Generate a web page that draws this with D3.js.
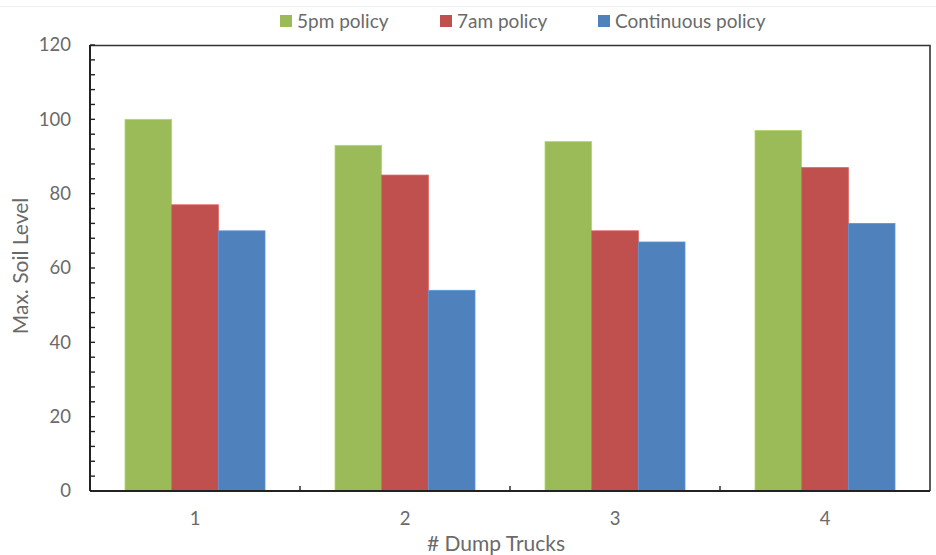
<!DOCTYPE html>
<html>
<head>
<meta charset="utf-8">
<script src="https://cdn.jsdelivr.net/npm/d3@7"></script>
<style>
  html, body { margin: 0; padding: 0; background: #fff; }
  svg { display: block; font-family: Lato, "Open Sans", sans-serif; }
</style>
</head>
<body>
<svg id="chart" width="936" height="555"></svg>
<script>
// Number of dump trucks on the x axis
const categories = ["1", "2", "3", "4"];
// Policy series
const seriesNames = ["5pm policy", "7am policy", "Continuous policy"];
const seriesColors = ["#9BBB59", "#C0504D", "#4F81BD"];
const policy5pm = [100, 93, 94, 97];
const policy7am = [77, 85, 70, 87];
const policyContinuous = [70, 54, 67, 72];
const yTicks = [0, 20, 40, 60, 80, 100, 120];

const seriesValues = [policy5pm, policy7am, policyContinuous];
const rows = categories.map((c, i) => ({
  cat: c,
  vals: seriesValues.map((s, k) => ({ key: seriesNames[k], value: s[i], color: seriesColors[k] }))
}));

const svg = d3.select("#chart");
const W = 936, H = 555;
const m = { left: 90, right: 6, top: 45, bottom: 64 };
const plotW = W - m.left - m.right;
const plotH = H - m.top - m.bottom;
const textColor = "#6a6a6a";

// outer chart frame line
svg.append("line").attr("x1", 0).attr("x2", W).attr("y1", 6.5).attr("y2", 6.5)
  .attr("stroke", "#eeeeee").attr("stroke-width", 1);

const g = svg.append("g").attr("transform", `translate(${m.left},${m.top})`);

const x0 = d3.scaleBand().domain(categories).range([0, plotW]).paddingInner(0).paddingOuter(0);
const groupW = x0.bandwidth() * 2 / 3;
const x1 = d3.scaleBand().domain(seriesNames).range([0, groupW]).padding(0);
const y = d3.scaleLinear().domain([0, 120]).range([plotH, 0]);

// bars
const groups = g.selectAll(".grp").data(rows).join("g")
  .attr("transform", d => `translate(${x0(d.cat) + (x0.bandwidth() - groupW) / 2},0)`);
groups.selectAll("rect").data(d => d.vals).join("rect")
  .attr("x", d => x1(d.key))
  .attr("width", x1.bandwidth())
  .attr("y", d => y(d.value))
  .attr("height", d => y(0) - y(d.value))
  .attr("fill", d => d.color)
  .attr("stroke", d => d3.color(d.color).brighter(0.4))
  .attr("stroke-width", 0.8);

// plot box (top and right edges)
g.append("path")
  .attr("d", `M0,0.5H${plotW}V${plotH}`)
  .attr("fill", "none").attr("stroke", "#333").attr("stroke-width", 1.6);

// y axis: major labels, inward major + minor ticks
const yAxis = g.append("g");
yAxis.append("line").attr("x1", 0).attr("x2", 0).attr("y1", 0).attr("y2", plotH)
  .attr("stroke", "#222").attr("stroke-width", 2);
const minor = d3.range(0, 121, 4);
yAxis.selectAll(".mt").data(minor).join("line")
  .attr("x1", 0).attr("x2", 5)
  .attr("y1", d => y(d)).attr("y2", d => y(d))
  .attr("stroke", "#222").attr("stroke-width", 1.4);
yAxis.selectAll(".lbl").data(yTicks).join("text")
  .attr("x", -19).attr("y", d => y(d)).attr("dy", "0.35em")
  .attr("text-anchor", "end").attr("fill", textColor).attr("font-size", 18.5)
  .text(d => d);

// x axis with inward category-boundary ticks
const xAxis = g.append("g").attr("transform", `translate(0,${plotH})`);
xAxis.append("line").attr("x1", 0).attr("x2", plotW).attr("y1", 0).attr("y2", 0)
  .attr("stroke", "#222").attr("stroke-width", 2);
xAxis.selectAll(".bt").data(categories.slice(1)).join("line")
  .attr("x1", d => x0(d)).attr("x2", d => x0(d))
  .attr("y1", 0).attr("y2", -5)
  .attr("stroke", "#222").attr("stroke-width", 1.4);
xAxis.selectAll(".lbl").data(categories).join("text")
  .attr("x", d => x0(d) + x0.bandwidth() / 2).attr("y", 28).attr("dy", "0.35em")
  .attr("text-anchor", "middle").attr("fill", textColor).attr("font-size", 18.5)
  .text(d => d);

// axis titles
svg.append("text")
  .attr("transform", `translate(28,${m.top + plotH / 2 - 2}) rotate(-90)`)
  .attr("text-anchor", "middle").attr("fill", textColor).attr("font-size", 21)
  .text("Max. Soil Level");
svg.append("text")
  .attr("x", 496).attr("y", 551)
  .attr("text-anchor", "middle").attr("fill", textColor).attr("font-size", 21)
  .text("# Dump Trucks");

// legend
const legendX = [280, 440, 598];
const legend = svg.append("g");
seriesNames.forEach((name, i) => {
  legend.append("rect").attr("x", legendX[i]).attr("y", 15).attr("width", 12).attr("height", 12)
    .attr("fill", seriesColors[i]);
  legend.append("text").attr("x", legendX[i] + 17).attr("y", 21).attr("dy", "0.35em")
    .attr("fill", textColor).attr("font-size", 19).text(name);
});
</script>
</body>
</html>
